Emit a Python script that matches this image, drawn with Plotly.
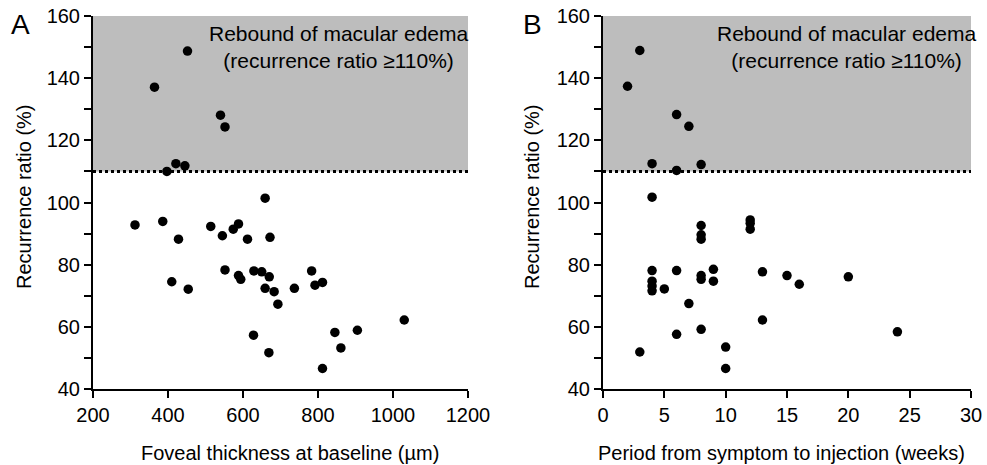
import plotly.graph_objects as go

# Panel A: foveal thickness at baseline (µm) vs recurrence ratio (%)
thickness_a = [452, 364, 540, 552, 397, 421, 445,
               659, 312, 386, 428, 514, 545, 574, 588, 612, 672,
               552, 410, 454, 588, 594, 629, 650, 670, 659, 683, 693, 737,
               783, 792, 812, 628, 669, 812, 845, 861, 905, 1030]
ratio_a = [148.7, 137.1, 128.1, 124.3, 110.0, 112.5, 111.8,
           101.4, 92.8, 93.9, 88.2, 92.3, 89.3, 91.4, 93.1, 88.2, 88.8,
           78.3, 74.5, 72.1, 76.5, 75.3, 78.0, 77.7, 76.1, 72.4, 71.3, 67.3, 72.4,
           78.0, 73.4, 74.3, 57.3, 51.7, 46.6, 58.2, 53.2, 58.9, 62.2]

# Panel B: period from symptom to injection (weeks) vs recurrence ratio (%)
weeks_b = [3, 2, 6, 7, 4, 6, 8,
           4, 8, 8, 8, 12, 12, 12,
           4, 4, 4, 4, 5, 6, 7, 8, 8, 9, 9, 13, 15, 16, 20,
           13, 6, 8, 24, 3, 10, 10]
ratio_b = [148.9, 137.4, 128.3, 124.5, 112.5, 110.3, 112.2,
           101.7, 92.6, 89.6, 88.2, 94.4, 93.3, 91.4,
           78.1, 74.7, 73.1, 71.6, 72.2, 78.1, 67.5, 76.5, 75.3, 78.5, 74.7, 77.7, 76.5, 73.7, 76.1,
           62.2, 57.6, 59.2, 58.4, 51.9, 53.5, 46.6]

y_ticks = [40, 60, 80, 100, 120, 140, 160]
xa_ticks = [200, 400, 600, 800, 1000, 1200]
xb_ticks = [0, 5, 10, 15, 20, 25, 30]
threshold = 110

W, H = 987, 465
FONT = "Liberation Sans, Arial, sans-serif"

fig = go.Figure()
fig.add_trace(go.Scatter(x=thickness_a, y=ratio_a, mode="markers",
                         marker=dict(size=9.5, color="black"), xaxis="x", yaxis="y",
                         showlegend=False))
fig.add_trace(go.Scatter(x=weeks_b, y=ratio_b, mode="markers",
                         marker=dict(size=9.5, color="black"), xaxis="x2", yaxis="y2",
                         showlegend=False))

def fx(s):
    return s / W

def fy(s):
    return 1 - s / H

ydom = [fy(389), fy(16)]
xa_dom = [fx(93), fx(468)]
xb_dom = [fx(603), fx(971)]

axis_common = dict(showline=True, linecolor="black", linewidth=2, ticks="outside",
                   ticklen=7, tickwidth=2, tickcolor="black", showgrid=False,
                   zeroline=False, automargin=False, ticklabeloverflow="allow",
                   tickfont=dict(family=FONT, size=20, color="black"))
minor = dict(dtick=10, ticks="outside", ticklen=7, tickwidth=2, tickcolor="black")

fig.update_layout(
    width=W, height=H, margin=dict(l=0, r=0, t=0, b=0),
    plot_bgcolor="white", paper_bgcolor="white",
    xaxis=dict(domain=xa_dom, range=[200, 1200], tickvals=xa_ticks, anchor="y", **axis_common),
    yaxis=dict(domain=ydom, range=[40, 160], tickvals=y_ticks, anchor="x", minor=minor,
               **axis_common),
    xaxis2=dict(domain=xb_dom, range=[0, 30], tickvals=xb_ticks, anchor="y2", **axis_common),
    yaxis2=dict(domain=ydom, range=[40, 160], tickvals=y_ticks, anchor="x2", minor=minor,
                **axis_common),
)

for xr, yr in [("x", "y"), ("x2", "y2")]:
    fig.add_shape(type="rect", xref=f"{xr} domain", yref=yr, x0=0, x1=1, y0=threshold, y1=160,
                  fillcolor="#bdbdbd", line=dict(width=0), layer="below")
    fig.add_shape(type="line", xref=f"{xr} domain", yref=yr, x0=0, x1=1, y0=threshold, y1=threshold,
                  line=dict(color="black", width=3, dash="dot"), layer="below")

def px_ann(x, y, text, size=20, **kw):
    fig.add_annotation(x=fx(x), y=fy(y), xref="paper", yref="paper", text=text,
                       xanchor="center", yanchor="middle",
                       showarrow=False, font=dict(family=FONT, size=size, color="black"), **kw)

# Shaded-region labels
px_ann(338, 47, "Rebound of macular edema<br>(recurrence ratio ≥110%)", size=21, align="center")
px_ann(846, 47, "Rebound of macular edema<br>(recurrence ratio ≥110%)", size=21, align="center")

# Panel letters
px_ann(20, 24, "A", size=28)
px_ann(532, 24, "B", size=28)

# Axis titles
px_ann(290, 453, "Foveal thickness at baseline (µm)")
px_ann(781, 453, "Period from symptom to injection (weeks)")
px_ann(24, 197, "Recurrence ratio (%)", textangle=-90)
px_ann(532, 197, "Recurrence ratio (%)", textangle=-90)

fig.write_html("out.html", config={"displayModeBar": False},
               post_script="document.body.style.margin='0';document.body.style.overflow='hidden';")
